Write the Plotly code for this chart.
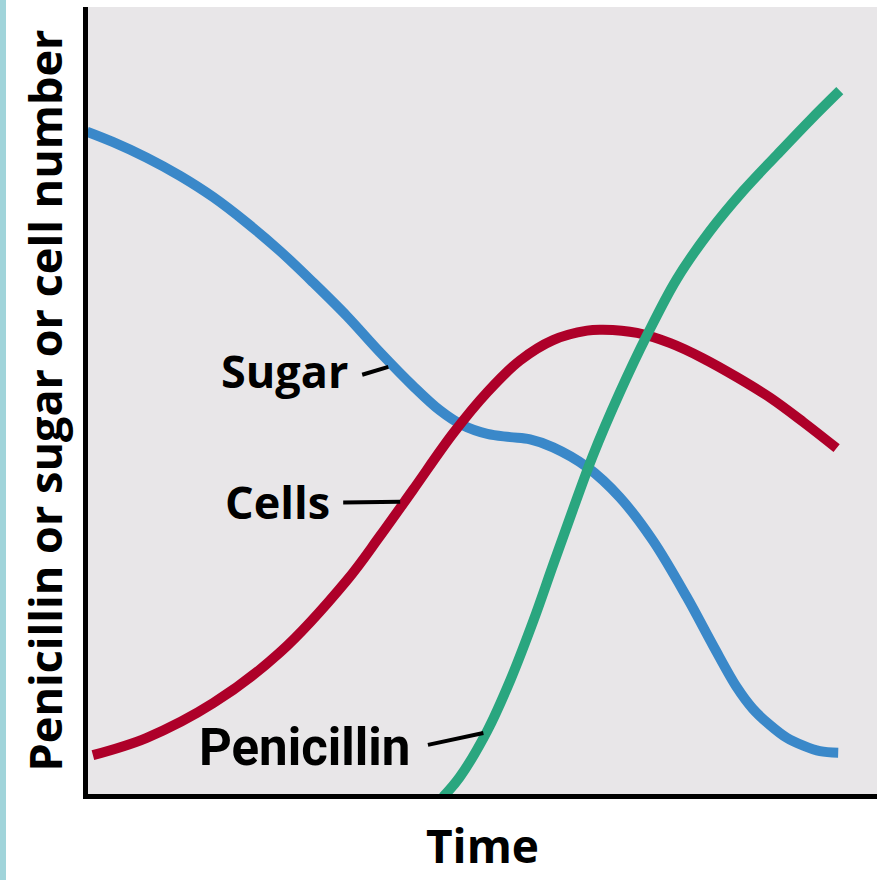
import plotly.graph_objects as go

# values (arbitrary units, 0-100)
sugar_time = [0.25, 3.5, 7.8, 12.0, 16.2, 20.5, 24.6, 28.8, 33.1, 37.2, 41.4, 44.8, 47.7, 50.8,
              53.7, 56.2, 59.1, 63.4, 67.5, 71.7, 76.0, 79.3, 82.3, 84.3, 86.5, 88.6, 90.7, 92.8, 95.1]
sugar_level = [84.3, 83.0, 81.0, 78.7, 76.0, 72.7, 69.2, 65.2, 60.9, 56.4, 52.1, 49.0, 47.1, 46.0,
               45.6, 45.3, 44.3, 41.8, 38.0, 32.5, 25.3, 19.2, 13.9, 11.2, 9.1, 7.5, 6.5, 5.8, 5.6]

cells_time = [1.0, 7.8, 16.2, 24.6, 33.1, 37.2, 41.4, 46.5, 50.8, 54.9, 59.1, 63.4, 65.4,
              69.7, 73.9, 78.0, 82.3, 86.5, 90.7, 94.9]
cells_level = [5.3, 7.5, 11.9, 18.3, 27.5, 33.0, 38.9, 46.1, 51.3, 55.3, 57.9, 59.1, 59.2,
               58.8, 57.5, 55.6, 53.2, 50.6, 47.5, 44.2]

penicillin_time = [45.2, 47.3, 50.8, 53.7, 56.6, 59.1, 61.6, 64.1, 67.5, 71.0,
                   74.7, 78.9, 83.1, 87.4, 91.5, 95.3]
penicillin_level = [0.0, 2.5, 8.4, 14.8, 22.3, 29.4, 36.4, 43.2, 51.2, 58.6,
                    65.6, 71.7, 76.8, 81.4, 85.7, 89.5]

BLUE = "#3a88c9"
RED = "#ae0029"
GREEN = "#2aa67f"

fig = go.Figure()

for t, v, c in [(sugar_time, sugar_level, BLUE),
                (cells_time, cells_level, RED),
                (penicillin_time, penicillin_level, GREEN)]:
    fig.add_trace(go.Scatter(x=t, y=v, mode="lines", line=dict(color=c, width=10, shape="spline"),
                             hoverinfo="skip", showlegend=False))

label_font = dict(family="Open Sans", size=45, color="black", weight="bold")

# curve labels
fig.add_annotation(x=33.5, y=54.1, text="Sugar", showarrow=False, xanchor="right", yanchor="middle",
                   font=label_font)
fig.add_annotation(x=31.2, y=37.4, text="Cells", showarrow=False, xanchor="right", yanchor="middle",
                   font=label_font)
fig.add_annotation(x=41.3, y=6.3, text="Penicillin", showarrow=False, xanchor="right", yanchor="middle",
                   font=dict(family="Roboto", size=51, color="black", weight="bold"))

# little leader lines from labels to curves
for x0, y0, x1, y1 in [(35.0, 53.5, 38.3, 54.5), (32.6, 37.3, 39.8, 37.4), (43.3, 6.6, 50.3, 8.1)]:
    fig.add_shape(type="line", x0=x0, y0=y0, x1=x1, y1=y1, line=dict(color="black", width=4))

# pale blue strip on the far left edge
fig.add_shape(type="rect", xref="paper", yref="paper", x0=-88 / 789, x1=-82 / 789, y0=-0.2, y1=1.05,
              fillcolor="#a0d4da", line=dict(width=0), layer="below")

axis_common = dict(showgrid=False, zeroline=False, showticklabels=False, ticks="",
                   showline=True, linecolor="black", linewidth=5)

fig.update_layout(
    width=885, height=880,
    margin=dict(l=88, r=8, t=7, b=86),
    plot_bgcolor="#e8e6e8",
    paper_bgcolor="white",
    xaxis=dict(range=[0.38, 100], title=dict(text="Time", standoff=34,
               font=dict(family="Open Sans", size=46, color="black", weight="bold")), **axis_common),
    yaxis=dict(range=[0.38, 100.1], title=dict(text="Penicillin or sugar or cell number", standoff=8,
               font=dict(family="Open Sans", size=45, color="black", weight="bold")), **axis_common),
)

fig.write_html("out.html", config={"displayModeBar": False},
               post_script="document.body.style.margin='0';")
